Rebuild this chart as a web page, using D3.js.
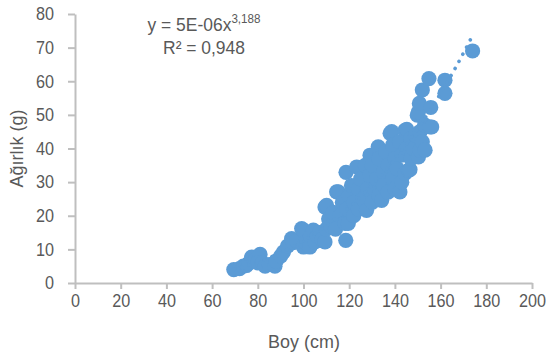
<!DOCTYPE html>
<html>
<head>
<meta charset="utf-8">
<script src="https://cdn.jsdelivr.net/npm/d3@7"></script>
<style>
  body { margin: 0; background: #fff; }
  svg { display: block; font-family: "Liberation Sans", Arial, sans-serif; }
</style>
</head>
<body>
<figure id="chart" style="margin:0"></figure>
<script>
// Boy (cm) and Ağırlık (g)
const boy = [69.5, 72, 73.7, 75, 76, 77.3, 78.5, 79, 81, 80, 82, 83.2, 85, 87.5, 88, 90, 91.2, 93, 94.8, 95.5,
  97, 99.2, 99.9, 100, 101, 102.8, 103, 104.3, 105, 106, 107, 108, 109.4, 109.4, 110, 110.1, 111, 112, 113, 114,
  114.5, 115.2, 116, 117, 118, 118.2, 118.5, 118.6, 119, 119.6, 120, 121, 122, 122, 123.3, 124, 124, 125, 126, 127,
  127.6, 128, 129, 129.1, 130, 130, 131, 132, 132.7, 133, 133, 134.2, 135, 135, 136, 137, 137, 137.9, 138.6, 139,
  139, 140, 140, 141, 142.2, 142, 143, 143, 144.4, 144.4, 145.2, 145, 145.9, 146.6, 147, 147, 148, 149, 149.8, 150.3,
  150.3, 150.7, 151, 151, 152, 152, 153, 153.2, 155.4, 155.7, 156.1, 154.9, 161.9, 161.9, 174];
const agirlik = [4.0, 4.3, 5.0, 5.2, 5.8, 7.7, 6.5, 7.0, 8.5, 6.0, 6.0, 5.0, 5.5, 5.0, 6.5, 8.0, 9.2, 11, 13.2, 12,
  12.5, 16.2, 15.7, 10.7, 12, 10.7, 14, 15.7, 12.2, 14, 15, 13, 12.2, 22.6, 16, 23.1, 19, 17, 21, 16,
  27.1, 27.1, 20, 24, 18, 17.7, 12.7, 32.9, 22, 17.7, 26, 29, 20, 24, 34.5, 28, 22, 31, 25, 35,
  21.6, 28, 32, 38, 24, 35, 28, 31, 40.5, 26, 37, 24.6, 33, 29, 39, 27, 35, 44.5, 45, 31,
  41, 28, 37, 34, 27.1, 42, 30, 38, 32.6, 45.4, 45.7, 40, 33.5, 33.7, 37, 43, 40, 44, 49.9, 37.5,
  50.9, 53.4, 39.5, 45, 57.4, 42, 47, 39.5, 46.4, 52.2, 46.4, 60.8, 60.3, 56.4, 69];

const xTicks = [0, 20, 40, 60, 80, 100, 120, 140, 160, 180, 200];
const yTicks = [0, 10, 20, 30, 40, 50, 60, 70, 80];

// power trendline y = a * x^b
const trendA = 5.3e-6;
const trendB = 3.188;
const trendRange = [69.5, 174];

const width = 546, height = 355;
const margin = {top: 14, right: 14, bottom: 72, left: 75};
const blue = '#5b9bd5';
const grey = '#595959';
const tickSqueeze = 0.9;  // tick digits are narrower than Arial
const labelSqueeze = 0.97;

const svg = d3.select('figure#chart')
  .append('svg')
  .attr('width', width)
  .attr('height', height);

const x = d3.scaleLinear().domain([0, 200]).range([margin.left, width - margin.right]);
const y = d3.scaleLinear().domain([0, 80]).range([height - margin.bottom, margin.top]);

const xAxis = svg.append('g')
  .attr('transform', `translate(0,${y(0)})`)
  .call(d3.axisBottom(x).tickValues(xTicks).tickSize(6).tickPadding(5).tickSizeOuter(0));

const yAxis = svg.append('g')
  .attr('transform', `translate(${x(0)},0)`)
  .call(d3.axisLeft(y).tickValues(yTicks).tickSize(7).tickPadding(13).tickSizeOuter(0));

[xAxis, yAxis].forEach(a => {
  a.select('.domain').attr('stroke', '#bfbfbf').attr('stroke-width', 2);
  a.selectAll('.tick line').attr('stroke', '#bfbfbf').attr('stroke-width', 2);
  a.selectAll('.tick text')
    .attr('fill', grey)
    .attr('font-size', 18)
    .attr('font-family', '"Liberation Sans", Arial, sans-serif')
    .attr('transform', `scale(${tickSqueeze},1)`);
});
// scaled text on the y axis: put its right edge back at 54px
yAxis.selectAll('.tick text').attr('x', -21 / tickSqueeze);

const pts = boy.map((b, i) => ({b, w: agirlik[i]}));

svg.append('g')
  .selectAll('circle')
  .data(pts)
  .enter().append('circle')
  .attr('cx', d => x(d.b))
  .attr('cy', d => y(d.w))
  .attr('r', 7.6)
  .attr('fill', blue);

const trend = d3.range(trendRange[0], trendRange[1] + 0.01, 0.5).map(v => [v, trendA * Math.pow(v, trendB)]);

svg.append('path')
  .datum(trend)
  .attr('fill', 'none')
  .attr('stroke', blue)
  .attr('stroke-width', 3.6)
  .attr('stroke-linecap', 'round')
  .attr('stroke-dasharray', '0.1 8')
  .attr('d', d3.line().x(d => x(d[0])).y(d => y(d[1])));

function label(px, py, rot, size) {
  return svg.append('g')
    .attr('transform', `translate(${px},${py}) rotate(${rot || 0}) scale(${labelSqueeze},1)`)
    .append('text')
    .attr('text-anchor', 'middle')
    .attr('fill', grey)
    .attr('font-size', size || 18);
}

// equation label
const eq = label(204, 30.5);
eq.append('tspan').text('y = 5E-06x');
eq.append('tspan').attr('dy', -7.5).attr('font-size', 12).text('3,188');

label(204, 54).text('R² = 0,948');

label((x(0) + x(200)) / 2 + 0.5, 348, 0, 18.5).text('Boy (cm)');

label(22.5, 148.5, -90, 18.5).text('Ağırlık (g)');
</script>
</body>
</html>
